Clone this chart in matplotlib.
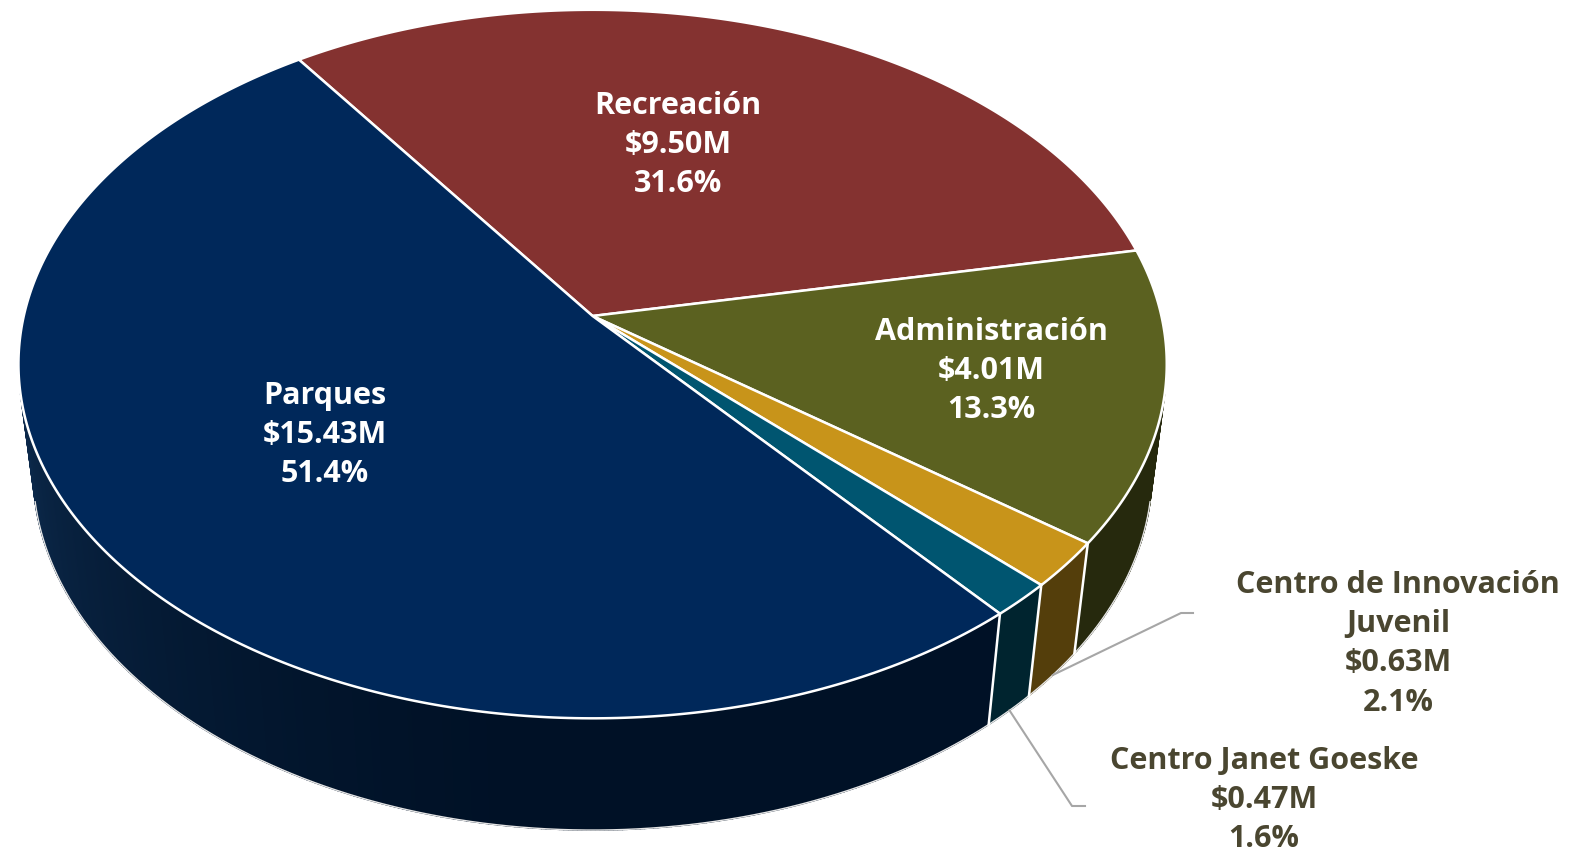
import numpy as np
import matplotlib
matplotlib.use("Agg")
import matplotlib.pyplot as plt
from matplotlib.patches import Polygon
from matplotlib.colors import to_rgb

# ---------------- data ----------------
categories = ["Recreación", "Administración", "Centro de Innovación\nJuvenil",
              "Centro Janet Goeske", "Parques"]
values = [9.50, 4.01, 0.63, 0.47, 15.43]          # millions of dollars
top_colors = ["#843230", "#5b6120", "#c8941a", "#005570", "#00285a"]

# ---------------- layout ----------------
W, H = 1583, 852
CX, CY = 592.6, 316.0          # screen position of the pie centre
S, C = 0.6113, 0.7914          # sin / cos of viewing elevation
DIST, FOC = 5.833, 3318.0      # perspective camera distance / focal length
THICK = 0.2437                 # pie thickness (radius = 1)
START = -35.0                  # clockwise from 12 o'clock, first slice start

label_layout = [
    # (x, first-line y, text colour)
    (678, 106, "white"),
    (991, 332, "white"),
    (1398, 585, "#4a4630"),
    (1264, 761, "#4a4630"),
    (325, 396, "white"),
]
leader_elbows = {2: [(1181, 613), (1193, 613)], 3: [(1072, 806), (1085, 806)]}
LINE_STEP = 39.2

font = "Open Sans"
fig = plt.figure(figsize=(W / 100, H / 100), dpi=100)
ax = fig.add_axes([0, 0, 1, 1])
ax.set_xlim(0, W)
ax.set_ylim(H, 0)
ax.axis("off")


def proj(alpha_deg, y=0.0, r=1.0):
    a = np.radians(alpha_deg)
    X = r * np.sin(a)
    Z = -r * np.cos(a)
    depth = DIST - (Z * C + y * S)
    u = X * FOC / depth
    vd = (Z * S - y * C) * FOC / depth
    return CX + u, CY + vd


total = sum(values)
fracs = [v / total for v in values]
bounds = [START]
for f in fracs:
    bounds.append(bounds[-1] + f * 360)

vis_half = np.degrees(np.arccos(1.0 / (DIST * C)))
vis0, vis1 = 90 + (90 - vis_half), 270 - (90 - vis_half)


def side_factor(a):
    t = np.clip((a - 185) / (vis1 - 185), 0, 1) ** 1.4
    return 0.42 + 0.40 * t, t


# ---- side walls ----
for i, col in enumerate(top_colors):
    a0, a1 = bounds[i], bounds[i + 1]
    lo, hi = max(a0, vis0), min(a1, vis1)
    if hi <= lo:
        a0s, a1s = a0 + 360, a1 + 360
        lo, hi = max(a0s, vis0), min(a1s, vis1)
        if hi <= lo:
            continue
    base = np.array(to_rgb(col))
    n = max(2, int((hi - lo) / 0.4))
    angs = np.linspace(lo, hi, n + 1)
    for j in range(n):
        aa = np.linspace(angs[j], angs[j + 1], 3)
        tx, ty = proj(aa)
        bx, by = proj(aa, y=-THICK)
        k, t = side_factor(0.5 * (angs[j] + angs[j + 1]))
        rgb = np.clip(base * k + np.array([0.045, 0.03, 0.0]) * t, 0, 1)
        poly = np.column_stack([np.r_[tx, bx[::-1]], np.r_[ty, by[::-1]]])
        ax.add_patch(Polygon(poly, closed=True, facecolor=rgb, edgecolor=rgb,
                             lw=1.0, zorder=1))

# outline of side walls
aa = np.linspace(vis0, vis1, 400)
bx, by = proj(aa, y=-THICK)
ax.plot(bx, by, color="#e6e6e6", lw=1.0, zorder=2)
for b in bounds:
    bb = b % 360
    if vis0 < bb < vis1:
        x0, y0 = proj(bb)
        x1, y1 = proj(bb, y=-THICK)
        ax.plot([x0, x1], [y0, y1], color="white", lw=1.8, zorder=2)

# ---- top face ----
for i, col in enumerate(top_colors):
    aa = np.linspace(bounds[i], bounds[i + 1], 300)
    tx, ty = proj(aa)
    poly = np.column_stack([np.r_[CX, tx], np.r_[CY, ty]])
    ax.add_patch(Polygon(poly, closed=True, facecolor=col, edgecolor="white",
                         lw=1.8, joinstyle="round", zorder=3))

# ---- labels ----
for i, cat in enumerate(categories):
    x, y, tc = label_layout[i]
    lines = cat.split("\n") + [f"${values[i]:.2f}M", f"{fracs[i] * 100:.1f}%"]
    for k, line in enumerate(lines):
        ax.text(x, y + k * LINE_STEP, line, ha="center", va="center",
                color=tc, fontsize=22, fontweight="bold", family=font,
                zorder=5)

# ---- leader lines ----
for i, pts in leader_elbows.items():
    mid = 0.5 * (bounds[i] + bounds[i + 1])
    sx, sy = proj(mid, y=-THICK)
    xs = [sx] + [p[0] for p in pts]
    ys = [sy] + [p[1] for p in pts]
    ax.plot(xs, ys, color="#a6a6a6", lw=1.5, zorder=4)

fig.savefig("out.png", dpi=100, facecolor="white")
